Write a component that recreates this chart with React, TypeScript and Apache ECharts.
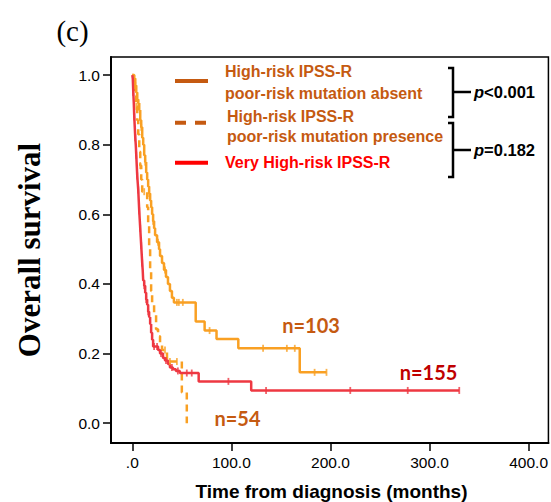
import React, { useEffect, useRef } from "react";
import * as echarts from "echarts";

// ---- data (months, cumulative survival) ----
const absentCurve: [number, number][] = [
  [0, 1.0], [2, 0.99], [3, 0.97], [4, 0.95], [5, 0.93], [6, 0.92], [7, 0.9], [8, 0.87],
  [9, 0.85], [10, 0.82], [11, 0.8], [12, 0.77], [13, 0.75], [14, 0.72], [15, 0.7],
  [16, 0.68], [17, 0.66], [18, 0.64], [19, 0.62], [20, 0.6], [21, 0.58], [22, 0.56],
  [23, 0.54], [25, 0.52], [27, 0.5], [28, 0.48], [30, 0.46], [32, 0.44], [34, 0.42],
  [36, 0.4], [38, 0.38], [40, 0.36], [42, 0.347], [64, 0.292], [73, 0.266], [85, 0.242],
  [107, 0.215], [169, 0.146], [196, 0.146],
];
const absentCensor: [number, number][] = [
  [3, 0.97], [6, 0.92], [9, 0.85], [13, 0.75], [17, 0.66], [21, 0.58], [26, 0.52],
  [33, 0.44], [45, 0.347], [47, 0.347], [51, 0.347], [78, 0.266], [132, 0.215],
  [156, 0.215], [164, 0.215], [184, 0.146], [196, 0.146],
];
const presenceCurve: [number, number][] = [
  [0, 1.0], [1, 0.98], [2, 0.96], [3, 0.94], [4, 0.91], [5, 0.87], [6, 0.83], [7, 0.78],
  [8, 0.74], [9, 0.7], [10, 0.665], [15, 0.62], [16, 0.57], [17, 0.5], [18, 0.44],
  [19, 0.38], [20, 0.34], [22, 0.31], [24, 0.27], [26, 0.25], [28, 0.23], [30, 0.21],
  [35, 0.177], [50, 0.088], [55, 0.0],
];
const presenceCensor: [number, number][] = [
  [4, 0.91], [8, 0.74], [12, 0.665], [33, 0.21], [38, 0.177], [45, 0.177],
];
const veryHighCurve: [number, number][] = [
  [0, 1.0], [0.5, 0.99], [1, 0.95], [1.5, 0.92], [2, 0.88], [2.5, 0.85], [3, 0.82],
  [3.5, 0.8], [4, 0.77], [4.5, 0.74], [5, 0.71], [5.5, 0.69], [6, 0.67], [6.5, 0.64],
  [7, 0.61], [7.5, 0.585], [8, 0.56], [8.5, 0.535], [9, 0.51], [9.5, 0.485], [10, 0.46],
  [10.5, 0.44], [11, 0.41], [12, 0.395], [13, 0.375], [14, 0.355], [15, 0.34], [16, 0.32],
  [17, 0.305], [18, 0.285], [19, 0.26], [20, 0.24], [21, 0.22], [26, 0.21], [28, 0.2],
  [31, 0.187], [33, 0.18], [36, 0.17], [38, 0.16], [41, 0.155], [44, 0.15], [48, 0.144],
  [67, 0.12], [120, 0.094], [330, 0.094],
];
const veryHighCensor: [number, number][] = [
  [1, 0.95], [2, 0.88], [3, 0.82], [4, 0.77], [5, 0.71], [6, 0.67], [7, 0.61], [8, 0.56],
  [9, 0.51], [10, 0.46], [12, 0.395], [14, 0.355], [16, 0.32], [22, 0.22], [25, 0.22],
  [29, 0.2], [34, 0.18], [40, 0.16], [46, 0.15], [55, 0.144], [60, 0.144], [97, 0.12],
  [135, 0.094], [220, 0.094], [278, 0.094], [330, 0.094],
];

const xTicks = [0, 100, 200, 300, 400];
const xTickLabels = [".0", "100.0", "200.0", "300.0", "400.0"];
const yTicks = [0, 0.2, 0.4, 0.6, 0.8, 1.0];
const yTickLabels = ["0.0", "0.2", "0.4", "0.6", "0.8", "1.0"];

const legendNames = [
  ["High-risk IPSS-R", "poor-risk mutation absent"],
  ["High-risk IPSS-R", "poor-risk mutation presence"],
  ["Very High-risk IPSS-R"],
];
const pValues = ["<0.001", "=0.182"];
const nLabels = ["n=103", "n=155", "n=54"];

const ORANGE = "#F9A023";
const RED = "#EE3842";
const BROWN = "#C55A11";
const SANS = "'Liberation Sans', Arial, sans-serif";
const SERIF = "'Liberation Serif', 'Times New Roman', serif";

function findLabel(ticks: number[], labels: string[], v: number) {
  const i = ticks.findIndex((t) => Math.abs(t - v) < 1e-6);
  return i >= 0 ? labels[i] : "";
}

export default function App() {
  const ref = useRef<HTMLDivElement>(null);
  useEffect(() => {
    if (!ref.current) return;
    const chart = echarts.init(ref.current, undefined, { renderer: "svg" });
    const lineSeries = (name: string, data: [number, number][], color: string, dashed: boolean) => ({
      name,
      type: "line",
      data,
      step: "end",
      showSymbol: false,
      symbol: "none",
      lineStyle: { color, width: 2.5, type: dashed ? [7, 5] : "solid" },
      z: 3,
    });
    const censorSeries = (data: [number, number][], color: string) => ({
      type: "scatter",
      data,
      symbol: "rect",
      symbolSize: [1.8, 7],
      itemStyle: { color },
      z: 4,
    });
    const g: any[] = [];
    const lgY = [81, 122.7, 162.7];
    const lgColors = [BROWN, BROWN, "#FF0000"];
    lgY.forEach((y, i) => {
      g.push({
        type: "line",
        shape: { x1: 175, y1: y, x2: 208, y2: y },
        style: { stroke: lgColors[i], lineWidth: 4, lineDash: i === 1 ? [11, 9] : null },
      });
    });
    const textPos = [
      [225, 71.5, 0, 0], [225, 93, 0, 1],
      [227, 116.5, 1, 0], [227, 136, 1, 1],
      [225, 162.7, 2, 0],
    ];
    textPos.forEach(([x, y, i, j]) => {
      g.push({
        type: "text",
        x, y,
        style: {
          text: legendNames[i][j],
          fill: i === 2 ? "#FF0000" : BROWN,
          fontFamily: SANS, fontWeight: "bold", fontSize: 16,
          verticalAlign: "middle", textAlign: "left",
        },
      });
    });
    const brackets = [
      { top: 68, bottom: 117, mid: 92 },
      { top: 123, bottom: 177, mid: 150 },
    ];
    brackets.forEach((b, i) => {
      g.push({
        type: "polyline",
        shape: { points: [[448, b.top], [453, b.top], [453, b.bottom], [448, b.bottom]] },
        style: { stroke: "#000", lineWidth: 2.5, fill: null },
      });
      g.push({
        type: "line",
        shape: { x1: 453, y1: b.mid, x2: 471, y2: b.mid },
        style: { stroke: "#000", lineWidth: 2.5 },
      });
      g.push({
        type: "text",
        x: 474, y: b.mid,
        style: {
          text: "{i|p}" + pValues[i],
          fill: "#000",
          fontFamily: SANS, fontWeight: "bold", fontSize: 16.5,
          verticalAlign: "middle",
          rich: { i: { fontStyle: "italic", fontWeight: "bold", fontSize: 16.5, fontFamily: SANS, fill: "#000" } },
        },
      });
    });
    const nPos = [
      [311, 325, BROWN], [428.5, 372, "#C00000"], [237.5, 418, BROWN],
    ];
    nPos.forEach(([x, y, c], i) => {
      g.push({
        type: "text", x, y,
        style: {
          text: nLabels[i], fill: c as string,
          fontFamily: "Lato, 'Liberation Sans', sans-serif", fontWeight: "bold", fontSize: 20,
          textAlign: "center", verticalAlign: "middle",
        },
      });
    });
    g.push({
      type: "text", x: 72.5, y: 31,
      style: { text: "(c)", fill: "#000", fontFamily: SERIF, fontSize: 29, textAlign: "center", verticalAlign: "middle" },
    });
    g.push({
      type: "text", x: 29, y: 250, rotation: Math.PI / 2,
      style: { text: "Overall survival", fill: "#000", fontFamily: SERIF, fontWeight: "bold", fontSize: 31, textAlign: "center", verticalAlign: "middle" },
    });
    g.push({
      type: "text", x: 331.5, y: 491,
      style: { text: "Time from diagnosis (months)", fill: "#000", fontFamily: SANS, fontWeight: "bold", fontSize: 19, textAlign: "center", verticalAlign: "middle" },
    });

    chart.setOption({
      animation: false,
      backgroundColor: "#fff",
      grid: { left: 111, right: 2, top: 57, bottom: 59, show: true, borderColor: "#000", borderWidth: 1.5 },
      xAxis: {
        type: "value",
        min: -21.5,
        max: 420,
        axisLine: { show: true, onZero: false, lineStyle: { color: "#000", width: 2 } },
        axisTick: { show: true, customValues: xTicks, length: 8, lineStyle: { color: "#000", width: 1.5 } },
        axisLabel: {
          customValues: xTicks,
          formatter: (v: number) => findLabel(xTicks, xTickLabels, v),
          color: "#000", fontFamily: SANS, fontSize: 15.5, margin: 11,
        },
        splitLine: { show: false },
      },
      yAxis: {
        type: "value",
        min: -0.057,
        max: 1.052,
        axisLine: { show: true, onZero: false, lineStyle: { color: "#000", width: 2 } },
        axisTick: { show: true, customValues: yTicks, length: 8, lineStyle: { color: "#000", width: 1.5 } },
        axisLabel: {
          customValues: yTicks,
          formatter: (v: number) => findLabel(yTicks, yTickLabels, v),
          color: "#000", fontFamily: SANS, fontSize: 15.5, margin: 11,
        },
        splitLine: { show: false },
      },
      series: [
        lineSeries("High-risk IPSS-R poor-risk mutation absent", absentCurve, ORANGE, false),
        lineSeries("High-risk IPSS-R poor-risk mutation presence", presenceCurve, ORANGE, true),
        lineSeries("Very High-risk IPSS-R", veryHighCurve, RED, false),
        censorSeries(absentCensor, ORANGE),
        censorSeries(presenceCensor, ORANGE),
        censorSeries(veryHighCensor, RED),
      ],
      graphic: g,
    });
    return () => chart.dispose();
  }, []);
  return (
    <div
      ref={ref}
      style={{ position: "absolute", left: 0, top: 0, width: 551, height: 502, background: "#fff" }}
    />
  );
}
